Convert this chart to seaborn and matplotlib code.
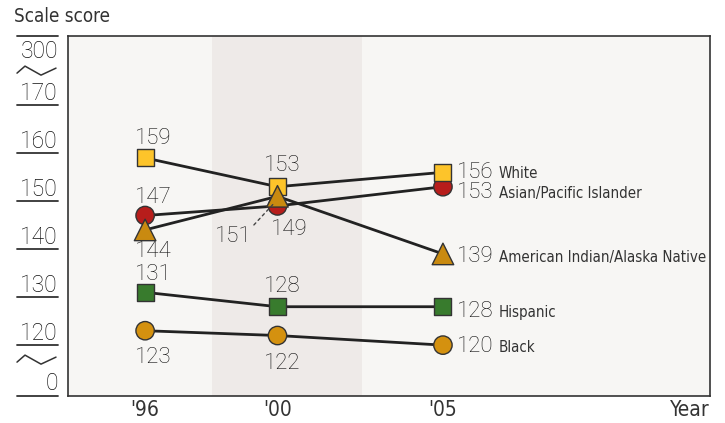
import matplotlib
matplotlib.use("Agg")
import matplotlib.pyplot as plt
import matplotlib.transforms as mtransforms
import seaborn as sns
import pandas as pd

# ---- data ----
years = [1996, 2000, 2005]
year_labels = ["'96", "'00", "'05"]
groups = ["Asian/Pacific Islander", "White", "Hispanic", "Black", "American Indian/Alaska Native"]
white = [159, 153, 156]
asian = [147, 149, 153]
amind = [144, 151, 139]
hispanic = [131, 128, 128]
black = [123, 122, 120]
series = {"White": white, "Asian/Pacific Islander": asian,
          "American Indian/Alaska Native": amind, "Hispanic": hispanic, "Black": black}
ytick_values = [170, 160, 150, 140, 130, 120]
ytick_labels = ["170", "160", "150", "140", "130", "120"]

rows = []
for g in groups:
    for yr, v in zip(years, series[g]):
        rows.append({"group": g, "year": yr, "score": v})
df = pd.DataFrame(rows)

sns.set_theme(style="white")
NUM_FONT = ["Roboto", "DejaVu Sans"]
TXT_FONT = ["DejaVu Sans"]
plt.rcParams["font.family"] = TXT_FONT

fig = plt.figure(figsize=(7.25, 4.23), dpi=100)
fig.patch.set_facecolor("white")
ax = fig.add_axes([68/725, 1-396/423, 642/725, 360/423])
ax.set_facecolor("#f7f6f4")

YMIN, YMAX = 109.4, 184.4
XMIN, XMAX = 1993.67, 2013.07
ax.set_ylim(YMIN, YMAX)
ax.set_xlim(XMIN, XMAX)

ax.axvspan(1998.02, 2002.55, color="#eeeae8", zorder=0, lw=0)

palette = {"White": "#fdc42a", "Asian/Pacific Islander": "#b71d1b",
           "American Indian/Alaska Native": "#c98a10", "Hispanic": "#387b2d", "Black": "#d4910f"}
markers = {"White": "s", "Asian/Pacific Islander": "o",
           "American Indian/Alaska Native": "^", "Hispanic": "s", "Black": "o"}
sizes = {"White": 150, "Asian/Pacific Islander": 175,
         "American Indian/Alaska Native": 240, "Hispanic": 150, "Black": 175}

sns.lineplot(data=df, x="year", y="score", units="group", estimator=None,
             color="#222222", lw=2.0, ax=ax, legend=False, zorder=2)
sns.scatterplot(data=df, x="year", y="score", hue="group", style="group", size="group",
                palette=palette, markers=markers, sizes=sizes, edgecolor="#333333",
                linewidth=1.0, ax=ax, legend=False, zorder=3, alpha=1)

for s in ax.spines.values():
    s.set_color("#333333")
    s.set_linewidth(1.2)

TXT = dict(family=TXT_FONT, fontstretch="condensed", color="#333333")
NUM = dict(family=NUM_FONT, fontweight="light", color="#111111")

ax.set_xlabel("")
ax.set_ylabel("")
ax.set_yticks([])
ax.set_xticks(years)
ax.set_xticklabels(year_labels, fontsize=15, **TXT)
ax.tick_params(axis="x", length=0, pad=3)

ax.text(1.0, -4/360, "Year", transform=ax.transAxes, ha="right", va="top", fontsize=15, **TXT)
fig.text(14/725, 1-7/423, "Scale score", ha="left", va="top", fontsize=13.5, **TXT)

blend = mtransforms.blended_transform_factory(ax.transAxes, ax.transData)
x0, x1 = (17-68)/642, (58-68)/642
PX = 4.8
line_levels = [YMAX] + ytick_values + [YMIN]
for lv in line_levels:
    ax.plot([x0, x1], [lv, lv], transform=blend, color="#333333", lw=1.3, clip_on=False)
for v, lab in zip(ytick_values, ytick_labels):
    ax.text(x1, v + 5/PX, lab, transform=blend, ha="right", va="baseline", fontsize=16.5, **NUM)
ax.text(x1, 160 + (153-58)/PX, "300", transform=blend, ha="right", va="baseline", fontsize=16.5, **NUM)
ax.text(x1, YMIN + 6/PX, "0", transform=blend, ha="right", va="baseline", fontsize=16.5, **NUM)

def zigzag(center_px):
    pts_x = [(17-68)/642, (25-68)/642, (41-68)/642, (56-68)/642]
    dy = [3, -4, 5, -2]
    ys = [160 - (center_px + d - 153)/PX for d in dy]
    ax.plot(pts_x, ys, transform=blend, color="#333333", lw=1.1, clip_on=False)
zigzag(70)
zigzag(359)

def lab(x, y, text, dx, dy, ha="center"):
    ax.annotate(text, (x, y), xytext=(dx, dy), textcoords="offset pixels",
                ha=ha, va="baseline", fontsize=16, zorder=5, **NUM)

lab(years[0], white[0], str(white[0]), 8, 14)
lab(years[0], asian[0], str(asian[0]), 8, 13)
lab(years[0], amind[0], str(amind[0]), 8, -27)
lab(years[0], hispanic[0], str(hispanic[0]), 8, 12)
lab(years[0], black[0], str(black[0]), 8, -32)

lab(years[1], white[1], str(white[1]), 5, 16)
lab(years[1], asian[1], str(asian[1]), 12, -29)
lab(years[1], hispanic[1], str(hispanic[1]), 5, 15)
lab(years[1], black[1], str(black[1]), 5, -33)
lab(years[1], amind[1], str(amind[1]), -44, -46)
ax.annotate("", xy=(277, 423-200), xycoords="figure pixels",
            xytext=(252, 423-227), textcoords="figure pixels",
            arrowprops=dict(arrowstyle="-", ls=(0, (2, 2.5)), color="#444444", lw=1.0))

end_offsets = {"White": 6, "Asian/Pacific Islander": 11,
               "American Indian/Alaska Native": 8, "Hispanic": 10, "Black": 7}
for g in ["White", "Asian/Pacific Islander", "American Indian/Alaska Native", "Hispanic", "Black"]:
    v = series[g][2]
    ax.annotate(str(v), (years[2], v), xytext=(457-443, -end_offsets[g]),
                textcoords="offset pixels", ha="left", va="baseline", fontsize=16, zorder=5, **NUM)
    ax.annotate(g, (years[2], v), xytext=(499-443, -end_offsets[g]),
                textcoords="offset pixels", ha="left", va="baseline", fontsize=10.8, zorder=5, **TXT)

fig.savefig("out.png", dpi=100, facecolor="white")
